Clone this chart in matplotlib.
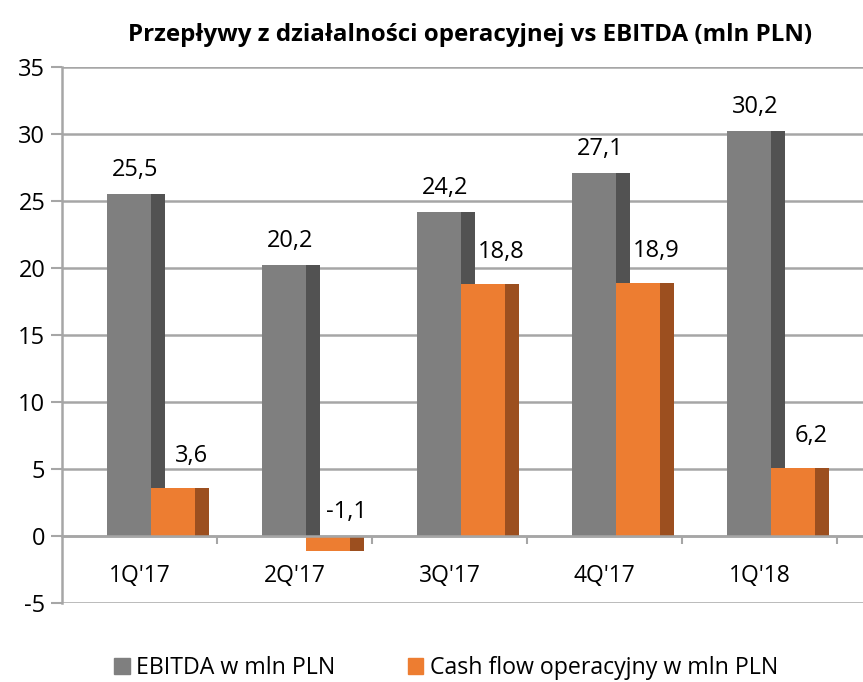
import matplotlib.pyplot as plt
from matplotlib.patches import Patch

plt.rcParams['font.family'] = ['Open Sans', 'DejaVu Sans']
plt.rcParams['axes.unicode_minus'] = False

quarters = ["1Q'17", "2Q'17", "3Q'17", "4Q'17", "1Q'18"]
ebitda = [25.5, 20.2, 24.2, 27.1, 30.2]
cash_flow = [3.6, -1.1, 18.8, 18.9, 5.1]
ebitda_labels = ["25,5", "20,2", "24,2", "27,1", "30,2"]
cash_flow_labels = ["3,6", "-1,1", "18,8", "18,9", "6,2"]

GRAY, GRAY_SIDE = '#7f7f7f', '#525252'
ORANGE, ORANGE_SIDE = '#ed7d31', '#9c4f1f'
GRID = '#a6a6a6'

fig = plt.figure(figsize=(8.63, 6.82), dpi=100)
ax = fig.add_axes([0.0718, 0.1158, 0.93, 0.786])

x = list(range(len(quarters)))

# pseudo 3D bars: a front face plus a darker side face
front_w = 0.284
side_w = 0.092
g_left = -0.21
o_left = g_left + front_w

ax.bar([i + g_left for i in x], ebitda, width=front_w, align='edge', color=GRAY, zorder=3)
ax.bar([i + g_left + front_w for i in x], ebitda, width=side_w, align='edge', color=GRAY_SIDE, zorder=3)
ax.bar([i + o_left for i in x], cash_flow, width=front_w, align='edge', color=ORANGE, zorder=4)
ax.bar([i + o_left + front_w for i in x], cash_flow, width=side_w, align='edge', color=ORANGE_SIDE, zorder=4)

for i in x:
    ax.text(i - 0.03, ebitda[i] + 1.8, ebitda_labels[i], ha='center', va='center', fontsize=17)
    if cash_flow[i] >= 0:
        y_lab = cash_flow[i] + 2.4
    else:
        y_lab = 1.8
    ax.text(i + 0.335, y_lab, cash_flow_labels[i], ha='center', va='center', fontsize=17)

ax.set_xlim(-0.5, -0.5 + 0.93 * 863 / 155)
ax.set_ylim(-5, 35)
ax.set_yticks(range(-5, 36, 5))
ax.yaxis.grid(True, color=GRID, linewidth=1.8, zorder=0)
ax.tick_params(axis='y', labelsize=17, length=8, color=GRID, width=1.5, pad=4)

# x axis sits at zero, ticks at category borders, labels at centres
ax.spines['bottom'].set_position(('data', 0))
ax.spines['bottom'].set_color(GRID)
ax.spines['bottom'].set_linewidth(1.8)
ax.spines['bottom'].set_zorder(5)
ax.set_xticks([i + 0.5 for i in x])
ax.set_xticklabels([])
ax.set_xticks(x, minor=True)
ax.set_xticklabels(quarters, minor=True)
ax.tick_params(axis='x', which='major', length=6, color=GRID, width=1.5, direction='out')
ax.tick_params(axis='x', which='minor', length=0, labelsize=16.5, pad=20)

ax.spines['left'].set_color(GRID)
ax.spines['left'].set_linewidth(1.8)
ax.spines['top'].set_visible(False)
ax.spines['right'].set_visible(False)

fig.text(0.545, 0.948, "Przepływy z działalności operacyjnej vs EBITDA (mln PLN)",
         ha='center', va='center', fontsize=17.4, fontweight='bold')

handles = [Patch(color=GRAY), Patch(color=ORANGE)]
fig.legend(handles, ["EBITDA w mln PLN", "Cash flow operacyjny w mln PLN"],
           loc='center', bbox_to_anchor=(0.517, 0.02), ncol=2, frameon=False,
           fontsize=16.7, handlelength=0.65, handleheight=0.65, handletextpad=0.3,
           columnspacing=3.1, borderpad=0, borderaxespad=0)

fig.savefig('out.png', dpi=100)
